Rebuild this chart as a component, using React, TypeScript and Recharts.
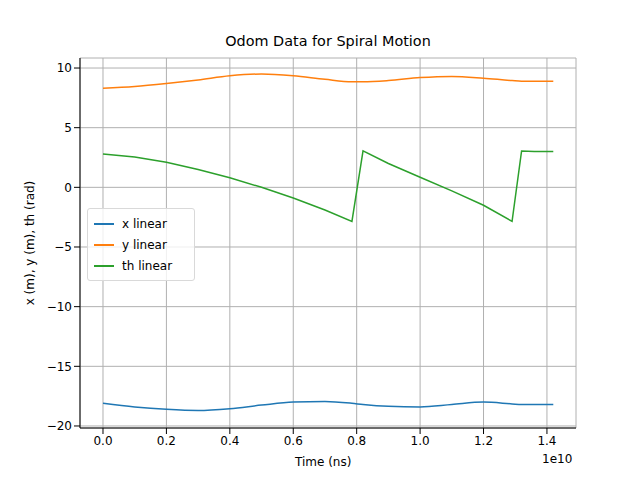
import { LineChart, Line, XAxis, YAxis, CartesianGrid } from 'recharts';

const times = [0, 0.1, 0.2, 0.3, 0.4, 0.5, 0.6, 0.7, 0.785, 0.82, 0.9, 1.0, 1.1, 1.2, 1.29, 1.32, 1.36, 1.42];
const xLinear = [-18.1, -18.4, -18.6, -18.7, -18.55, -18.25, -18.0, -17.95, -18.1, -18.2, -18.35, -18.4, -18.2, -18.0, -18.15, -18.2, -18.2, -18.2];
const yLinear = [8.3, 8.45, 8.7, 9.0, 9.35, 9.5, 9.35, 9.05, 8.85, 8.85, 8.95, 9.2, 9.3, 9.15, 8.95, 8.9, 8.9, 8.9];
const thLinear = [2.8, 2.55, 2.1, 1.5, 0.8, 0.0, -0.9, -1.9, -2.85, 3.05, 2.0, 0.85, -0.3, -1.5, -2.85, 3.05, 3.0, 3.0];
const xTicks = [0, 0.2, 0.4, 0.6, 0.8, 1.0, 1.2, 1.4];
const yTicks = [-20, -15, -10, -5, 0, 5, 10];

const data = times.map((t, i) => ({ t, x: xLinear[i], y: yLinear[i], th: thLinear[i] }));
const series = [
    { key: 'x', name: 'x linear', color: '#1f77b4', type: 'monotone' as const },
    { key: 'y', name: 'y linear', color: '#ff7f0e', type: 'monotone' as const },
    { key: 'th', name: 'th linear', color: '#2ca02c', type: 'linear' as const },
];

const font = 'DejaVu Sans, sans-serif';
const tick = { fill: '#000', fontSize: 12, fontFamily: font };
const fmt = (v: number) => (v < 0 ? '\u2212' + Math.abs(v) : String(v));

export default function App() {
    return (
        <div style={{ position: 'absolute', left: 0, top: 0, width: 640, height: 480, background: '#fff', fontFamily: font }}>
            <div style={{ position: 'absolute', top: 33, left: 80, width: 496, textAlign: 'center', fontSize: 14.4 }}>
                Odom Data for Spiral Motion
            </div>
            <LineChart width={640} height={480} data={data} margin={{ top: 58, right: 64, bottom: 22, left: 0 }}>
                <CartesianGrid stroke="#b0b0b0" />
                <XAxis dataKey="t" type="number" domain={[-0.0725, 1.4916]} ticks={xTicks} tickFormatter={(v: number) => v.toFixed(1)}
                    tick={tick} stroke="#000" height={30} allowDataOverflow />
                <XAxis xAxisId="top" orientation="top" dataKey="t" type="number" domain={[-0.0725, 1.4916]} tick={false} stroke="#000" height={0} />
                <YAxis type="number" domain={[-20.17, 10.84]} ticks={yTicks} tickFormatter={fmt} tick={tick} stroke="#000" width={80} allowDataOverflow />
                <YAxis yAxisId="right" orientation="right" domain={[-20.17, 10.84]} tick={false} stroke="#000" width={0} />
                {series.map((s) => (
                    <Line key={s.key} dataKey={s.key} name={s.name} type={s.type} stroke={s.color} strokeWidth={1.5} dot={false} isAnimationActive={false} />
                ))}
            </LineChart>
            <div style={{ position: 'absolute', top: 455, left: 295, fontSize: 12 }}>Time (ns)</div>
            <div style={{ position: 'absolute', top: 452, left: 542, fontSize: 12 }}>1e10</div>
            <div style={{ position: 'absolute', left: 30, top: 243, fontSize: 12, transform: 'translate(-50%,-50%) rotate(-90deg)', whiteSpace: 'nowrap' }}>
                x (m), y (m), th (rad)
            </div>
            <div style={{ position: 'absolute', left: 87, top: 208, width: 106, border: '1px solid #d9d9d9', borderRadius: 3, background: 'rgba(255,255,255,0.8)', padding: '4px 0', fontSize: 12 }}>
                {series.map((s) => (
                    <div key={s.key} style={{ display: 'flex', alignItems: 'center', height: 21 }}>
                        <span style={{ display: 'inline-block', width: 20, height: 2, background: s.color, margin: '0 8px 0 6px' }} />
                        {s.name}
                    </div>
                ))}
            </div>
        </div>
    );
}
